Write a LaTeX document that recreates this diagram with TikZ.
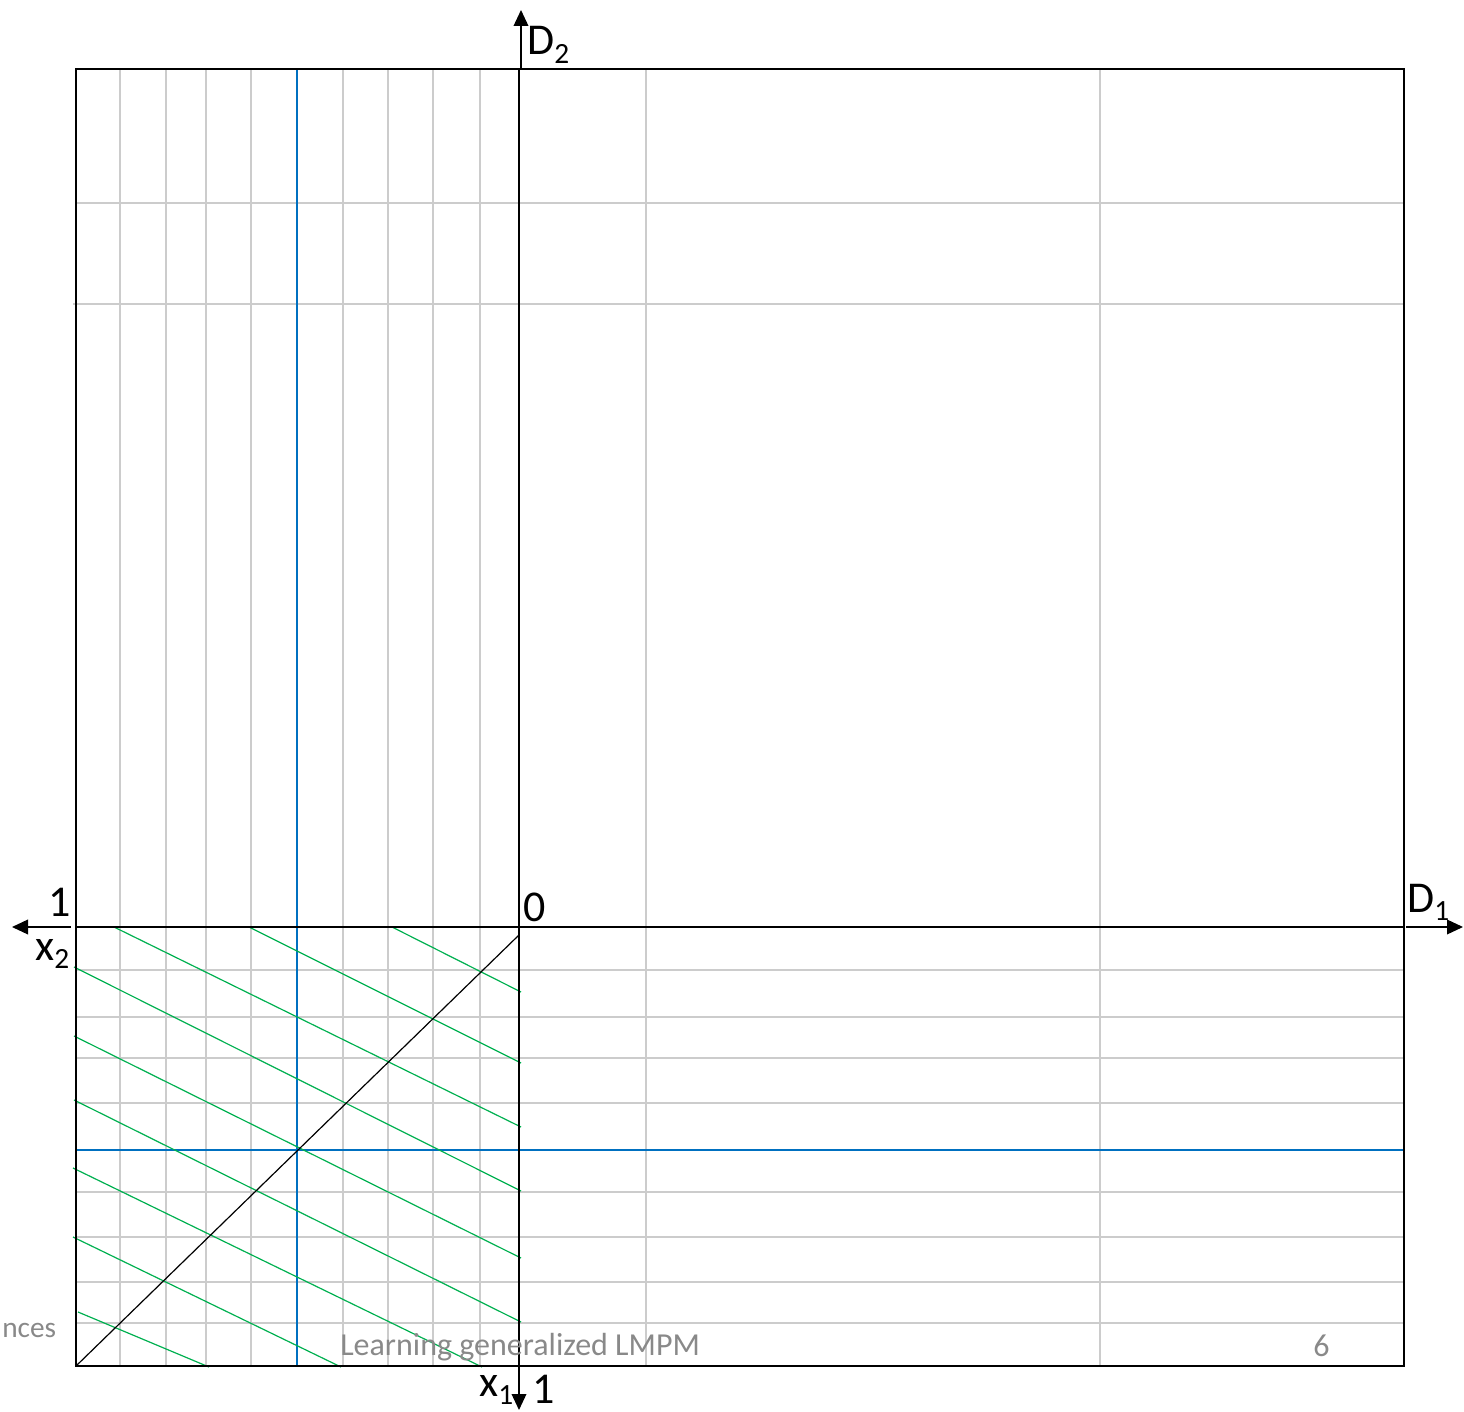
\documentclass[tikz,border=0pt]{standalone}
\usepackage{fontspec}
\setmainfont{Carlito}
\usetikzlibrary{arrows.meta}
\definecolor{gridgray}{RGB}{204,204,204}
\definecolor{offblue}{RGB}{0,112,192}
\definecolor{offgreen}{RGB}{0,176,80}
\definecolor{footgray}{RGB}{137,137,137}
\newcommand{\mysub}[1]{\raisebox{-0.2em}{\fontsize{22}{22}\selectfont #1}}
\begin{document}
\begin{tikzpicture}[x=0.75pt,y=-0.75pt,
  gridline/.style={draw=gridgray,line width=1pt},
  blueline/.style={draw=offblue,line width=0.9pt},
  greenline/.style={draw=offgreen,line width=0.9pt},
  axisline/.style={draw=black,line width=0.9pt},
  framebox/.style={draw=black,line width=1.8pt},
  axisarrow/.style={draw=black,line width=1.1pt,-{Triangle[length=12pt,width=11pt]}},
  lbl/.style={inner sep=0pt,font=\fontsize{33}{36}\selectfont},
  foot/.style={inner sep=0pt,text=footgray,font=\fontsize{24}{26}\selectfont}]
\useasboundingbox (0,0) rectangle (1464,1412);
% named points
\coordinate (tl) at (76,69);
\coordinate (br) at (1404,1366);
\coordinate (O) at (519,927);
\coordinate (vtop) at (519,69);
\coordinate (vbot) at (519,1366);
\coordinate (hleft) at (76,927);
\coordinate (hright) at (1404,927);
\coordinate (upA) at (521,69);
\coordinate (upB) at (521,10);
\coordinate (dnA) at (519,1366);
\coordinate (dnB) at (519,1410);
\coordinate (lfA) at (71,927);
\coordinate (lfB) at (12,927);
\coordinate (rtA) at (1406,927);
\coordinate (rtB) at (1463,927);
\coordinate (dgA) at (76,1366);
\coordinate (dgB) at (519,935);
% grey grid
\foreach \x in {120,166,206,251,343,388,433,480,646,1100}
  \draw[gridline] (\x,69) -- (\x,1366);
\foreach \y in {203,970,1017,1058,1103,1192,1237,1282,1323}
  \draw[gridline] (76,\y) -- (1404,\y);
\draw[gridline] (73,304) -- (1404,304);
% blue lines
\draw[blueline] (297,69) -- (297,1366);
\draw[blueline] (76,1150) -- (1404,1150);
% green lines
\draw[greenline] (392,927) -- (521,992);
\draw[greenline] (249,927) -- (521,1063);
\draw[greenline] (114,927) -- (521,1127);
\draw[greenline] (74,967) -- (521,1191);
\draw[greenline] (74,1036) -- (521,1258);
\draw[greenline] (74,1100) -- (521,1322);
\draw[greenline] (73,1168) -- (482,1367);
\draw[greenline] (73,1237) -- (341,1367);
\draw[greenline] (78,1312) -- (209,1367);
% diagonal and axes
\draw[axisline] (dgA) -- (dgB);
\draw[axisline] (vtop) -- (vbot);
\draw[axisline] (hleft) -- (hright);
\draw[axisarrow] (upA) -- (upB);
\draw[axisarrow] (dnA) -- (dnB);
\draw[axisarrow] (lfA) -- (lfB);
\draw[axisarrow] (rtA) -- (rtB);
% frame
\draw[framebox] (tl) rectangle (br);
% labels
\node[lbl,anchor=base] (one2) at (60,916) {1};
\node[lbl,anchor=base west] (x2) at (35,960) {x\mysub{2}};
\node[lbl,anchor=base] (zero) at (535,921) {0};
\node[lbl,anchor=base west] (D1) at (1407,912) {D\mysub{1}};
\node[lbl,anchor=base west] (D2) at (527,55) {D\mysub{2}};
\node[lbl,anchor=base west] (x1) at (479,1396) {x\mysub{1}};
\node[lbl,anchor=base west] (one1) at (532,1403) {1};
% footer
\node[foot,anchor=base west,font=\fontsize{22}{24}\selectfont] (f1) at (2,1337) {nces};
\node[foot,anchor=base west] (f2) at (340,1355) {Learning generalized LMPM};
\node[foot,anchor=base west] (f3) at (1313,1356) {6};
\end{tikzpicture}
\end{document}
